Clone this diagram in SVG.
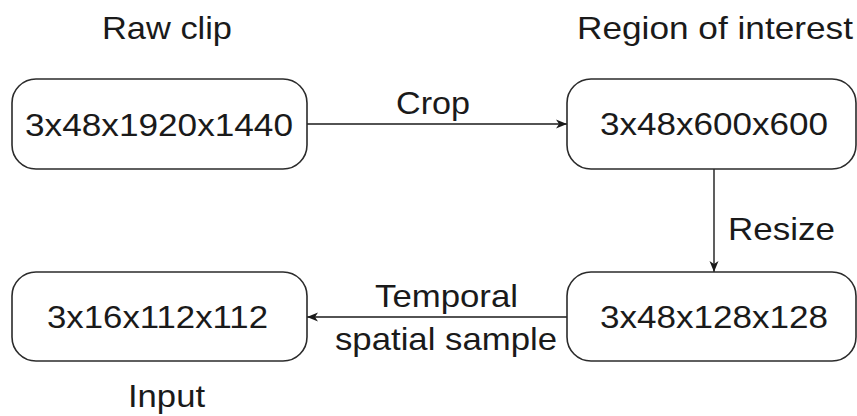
<svg xmlns="http://www.w3.org/2000/svg" width="857" height="416" viewBox="0 0 857 416">
  <style>
    .box { fill: #ffffff; stroke: #2b2b2b; stroke-width: 1.6; }
    .edge { fill: none; stroke: #1a1a1a; stroke-width: 1.4; }
    text { font-family: "Liberation Sans", Arial, Helvetica, sans-serif; font-size: 32px; fill: #1a1a1a; text-anchor: middle; }
  </style>
  <defs>
    <marker id="arrow" viewBox="0 0 11 10" refX="11" refY="5" markerWidth="11" markerHeight="10" markerUnits="userSpaceOnUse" orient="auto">
      <path d="M0,0.5 L11,5 L0,9.5 L3,5 Z" fill="#1a1a1a"/>
    </marker>
  </defs>
  <rect width="857" height="416" fill="#ffffff"/>

  <!-- stage captions -->
  <g id="captions">
    <text x="167" y="39" textLength="130" lengthAdjust="spacingAndGlyphs">Raw clip</text>
    <text x="715" y="39" textLength="276" lengthAdjust="spacingAndGlyphs">Region of interest</text>
    <text x="166.5" y="407" textLength="77" lengthAdjust="spacingAndGlyphs">Input</text>
  </g>

  <!-- connectors -->
  <g id="connectors">
    <g id="edge-crop">
      <line class="edge" x1="307" y1="124" x2="567" y2="124" marker-end="url(#arrow)"/>
      <text x="433" y="114" textLength="74" lengthAdjust="spacingAndGlyphs">Crop</text>
    </g>
    <g id="edge-resize">
      <line class="edge" x1="714" y1="169" x2="714" y2="272" marker-end="url(#arrow)"/>
      <text x="781.5" y="240" textLength="107" lengthAdjust="spacingAndGlyphs">Resize</text>
    </g>
    <g id="edge-sample">
      <line class="edge" x1="567" y1="317" x2="307" y2="317" marker-end="url(#arrow)"/>
      <text x="446.5" y="307" textLength="143" lengthAdjust="spacingAndGlyphs">Temporal</text>
      <text x="446" y="350" textLength="222" lengthAdjust="spacingAndGlyphs">spatial sample</text>
    </g>
  </g>

  <!-- nodes -->
  <g id="node-raw">
    <rect class="box" x="12" y="79" width="295" height="90" rx="24" ry="24"/>
    <text x="159" y="136" textLength="268" lengthAdjust="spacingAndGlyphs">3x48x1920x1440</text>
  </g>
  <g id="node-roi">
    <rect class="box" x="567" y="79" width="289" height="90" rx="24" ry="24"/>
    <text x="714" y="135" textLength="228" lengthAdjust="spacingAndGlyphs">3x48x600x600</text>
  </g>
  <g id="node-resized">
    <rect class="box" x="567" y="272" width="289" height="89" rx="24" ry="24"/>
    <text x="714" y="328" textLength="228" lengthAdjust="spacingAndGlyphs">3x48x128x128</text>
  </g>
  <g id="node-input">
    <rect class="box" x="12" y="272" width="295" height="89" rx="24" ry="24"/>
    <text x="157.5" y="328" textLength="221" lengthAdjust="spacingAndGlyphs">3x16x112x112</text>
  </g>
</svg>
